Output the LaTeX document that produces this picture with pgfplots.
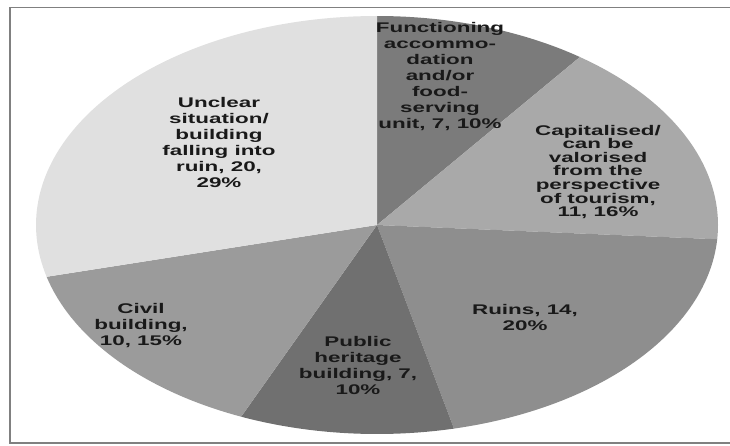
\documentclass[border=0pt]{standalone}
\usepackage{fontspec}
\usepackage{pgfplots}
\usepackage{pgfplotstable}
\pgfplotsset{compat=1.18}
\newfontfamily\lbl{Liberation Sans Bold}[FakeStretch=1.6]
\definecolor{cF}{HTML}{7B7B7B}
\definecolor{cC}{HTML}{A9A9A9}
\definecolor{cR}{HTML}{8E8E8E}
\definecolor{cP}{HTML}{707070}
\definecolor{cCi}{HTML}{9B9B9B}
\definecolor{cU}{HTML}{E0E0E0}
\tikzset{pielbl/.style={align=center, text=black!90, font={\lbl\fontsize{14}{16}\selectfont}}}
\pgfplotstableread{
value
7
11
14
7
10
20
}\piedata
\begin{document}
\pgfplotstablegetelem{0}{value}\of\piedata\pgfmathsetmacro\cA{\pgfplotsretval}%
\pgfplotstablegetelem{1}{value}\of\piedata\pgfmathsetmacro\cB{\cA+\pgfplotsretval}%
\pgfplotstablegetelem{2}{value}\of\piedata\pgfmathsetmacro\cC{\cB+\pgfplotsretval}%
\pgfplotstablegetelem{3}{value}\of\piedata\pgfmathsetmacro\cD{\cC+\pgfplotsretval}%
\pgfplotstablegetelem{4}{value}\of\piedata\pgfmathsetmacro\cE{\cD+\pgfplotsretval}%
\pgfplotstablegetelem{5}{value}\of\piedata\pgfmathsetmacro\cF{\cE+\pgfplotsretval}%
\pgfmathsetmacro\aZ{90}%
\pgfmathsetmacro\aA{90-\cA/\cF*360}%
\pgfmathsetmacro\aB{90-\cB/\cF*360}%
\pgfmathsetmacro\aC{90-\cC/\cF*360}%
\pgfmathsetmacro\aD{90-\cD/\cF*360}%
\pgfmathsetmacro\aE{90-\cE/\cF*360}%
\pgfmathsetmacro\aF{90-\cF/\cF*360}%
\begin{tikzpicture}
\begin{axis}[
  scale only axis, width=730pt, height=446pt,
  xmin=0, xmax=730, ymin=0, ymax=446, y dir=reverse,
  axis lines=none, ticks=none, clip=false,
]
\path (0,0) rectangle (730,446);
\addplot[fill=cF, draw=none, domain=\aA:\aZ, samples=60, variable=\t] ({377+341*cos(\t)},{225-209*sin(\t)}) -- (377,225) -- cycle;
\addplot[fill=cC, draw=none, domain=\aB:\aA, samples=60, variable=\t] ({377+341*cos(\t)},{225-209*sin(\t)}) -- (377,225) -- cycle;
\addplot[fill=cR, draw=none, domain=\aC:\aB, samples=60, variable=\t] ({377+341*cos(\t)},{225-209*sin(\t)}) -- (377,225) -- cycle;
\addplot[fill=cP, draw=none, domain=\aD:\aC, samples=60, variable=\t] ({377+341*cos(\t)},{225-209*sin(\t)}) -- (377,225) -- cycle;
\addplot[fill=cCi, draw=none, domain=\aE:\aD, samples=60, variable=\t] ({377+341*cos(\t)},{225-209*sin(\t)}) -- (377,225) -- cycle;
\addplot[fill=cU, draw=none, domain=\aF:\aE, samples=80, variable=\t] ({377+341*cos(\t)},{225-209*sin(\t)}) -- (377,225) -- cycle;
% frame
\draw[black!50, line width=1.5pt] (730,7.5) -- (10,7.5) -- (10,443) -- (730,443);
% labels
\node[pielbl] at (440,77) {Functioning\\accommo-\\dation\\and/or\\food-\\serving\\unit, 7, 10\%};
\node[pielbl, font={\lbl\fontsize{14}{13.6}\selectfont}] at (598,172) {Capitalised/\\can be\\valorised\\from the\\perspective\\of tourism,\\11, 16\%};
\node[pielbl] at (525,317) {Ruins, 14,\\20\%};
\node[pielbl] at (358,365) {Public\\heritage\\building, 7,\\10\%};
\node[pielbl] at (141,326) {Civil\\building,\\10, 15\%};
\node[pielbl] at (219,142) {Unclear\\situation/\\building\\falling into\\ruin, 20,\\29\%};
\end{axis}
\pgfresetboundingbox
\path (current axis.south west) rectangle (current axis.north east);
\end{tikzpicture}
\end{document}
